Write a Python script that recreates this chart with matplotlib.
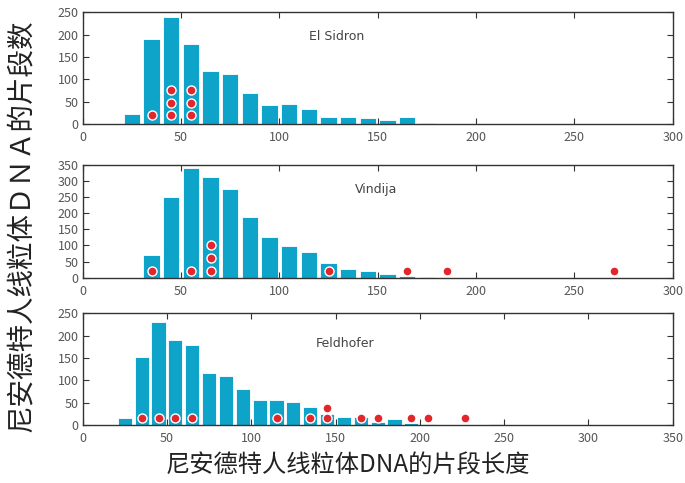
import matplotlib.pyplot as plt

plt.rcParams['font.family'] = ['Noto Sans CJK SC', 'DejaVu Sans']

# bin centres (10 bp bins) and counts per site
el_sidron_x = [25, 35, 45, 55, 65, 75, 85, 95, 105, 115, 125, 135, 145, 155, 165, 175, 185]
el_sidron_n = [22, 190, 239, 179, 119, 112, 70, 42, 44, 34, 16, 16, 14, 9, 15, 3, 1]

vindija_x = [35, 45, 55, 65, 75, 85, 95, 105, 115, 125, 135, 145, 155, 165, 175]
vindija_n = [69, 252, 342, 312, 275, 189, 127, 97, 79, 46, 27, 22, 11, 5, 3]

feldhofer_x = [25, 35, 45, 55, 65, 75, 85, 95, 105, 115, 125, 135, 145, 155, 165, 175, 185, 195, 205, 245]
feldhofer_n = [16, 153, 230, 190, 179, 116, 109, 80, 57, 56, 51, 40, 26, 19, 19, 8, 13, 6, 3, 3]

# red markers (fragment length, marker height)
el_sidron_dots_x = [35, 45, 45, 45, 55, 55, 55]
el_sidron_dots_y = [19, 19, 48, 76, 19, 48, 76]

vindija_dots_x = [35, 55, 65, 65, 65, 125, 165, 185, 270]
vindija_dots_y = [21, 21, 21, 61, 102, 21, 21, 21, 21]

feldhofer_dots_x = [35, 45, 55, 65, 115, 135, 145, 145, 165, 175, 195, 205, 227]
feldhofer_dots_y = [16, 16, 16, 16, 16, 16, 16, 39, 16, 16, 16, 16, 16]

panels = [
    ('El Sidron', el_sidron_x, el_sidron_n, el_sidron_dots_x, el_sidron_dots_y, 300, 250),
    ('Vindija', vindija_x, vindija_n, vindija_dots_x, vindija_dots_y, 300, 350),
    ('Feldhofer', feldhofer_x, feldhofer_n, feldhofer_dots_x, feldhofer_dots_y, 350, 250),
]
axes_rects = [
    [0.1207, 0.7433, 0.8613, 0.2313],
    [0.1207, 0.4251, 0.8613, 0.2333],
    [0.1207, 0.1195, 0.8613, 0.2319],
]
label_pos = [(0.43, 0.78), (0.497, 0.78), (0.445, 0.73)]

bar_color = '#0ea3c9'
dot_color = '#e3262b'
grey = '#555555'

fig = plt.figure(figsize=(6.85, 4.83), dpi=100)

for (name, bx, bn, dx, dy, xmax, ymax), rect, lp in zip(panels, axes_rects, label_pos):
    ax = fig.add_axes(rect)
    ax.bar(bx, bn, width=8.4, color=bar_color, edgecolor='white', linewidth=0.6)
    ax.plot(dx, dy, 'o', color=dot_color, markersize=6.5,
            markeredgecolor='white', markeredgewidth=1.0)
    ax.set_xlim(0, xmax)
    ax.set_ylim(0, ymax)
    ax.set_xticks(range(0, xmax + 1, 50))
    ax.set_yticks(range(0, ymax + 1, 50))
    ax.tick_params(direction='in', top=True, right=True, length=4,
                   labelsize=9, labelcolor=grey, color='#333333', pad=3)
    ax.tick_params(axis='x', pad=5)
    for s in ax.spines.values():
        s.set_color('#333333')
        s.set_linewidth(1.0)
    ax.text(lp[0], lp[1], name, transform=ax.transAxes, fontsize=9,
            color='#444444', ha='center', va='center', family='DejaVu Sans')

fig.text(0.032, 0.532, '尼安德特人线粒体ＤＮＡ的片段数', rotation=90, fontsize=19.8,
         ha='center', va='center', color='#222222')
fig.text(0.507, 0.037, '尼安德特人线粒体DNA的片段长度', fontsize=17.5,
         ha='center', va='center', color='#222222')

fig.savefig('out.png', dpi=100)
